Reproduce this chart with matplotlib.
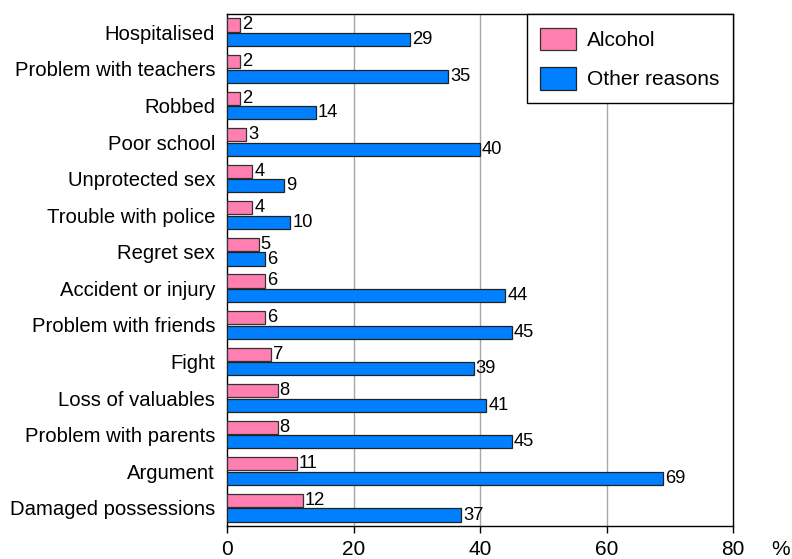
import numpy as np
import matplotlib
matplotlib.use("Agg")
import matplotlib.pyplot as plt

# data, top to bottom as in the chart
categories = ["Hospitalised", "Problem with teachers", "Robbed", "Poor school",
              "Unprotected sex", "Trouble with police", "Regret sex",
              "Accident or injury", "Problem with friends", "Fight",
              "Loss of valuables", "Problem with parents", "Argument",
              "Damaged possessions"]
alcohol = [2, 2, 2, 3, 4, 4, 5, 6, 6, 7, 8, 8, 11, 12]
other = [29, 35, 14, 40, 9, 10, 6, 44, 45, 39, 41, 45, 69, 37]
x_ticks = [0, 20, 40, 60, 80]

PINK = "#FF7FB0"
BLUE = "#0080FF"

plt.rcParams['font.family'] = ['Liberation Sans', 'DejaVu Sans']

fig = plt.figure(figsize=(7.92, 5.59), dpi=100)
ax = fig.add_axes([227/792, 1 - 526/559, 506/792, 512/559])

y = np.arange(len(categories))
h = 0.36
off = 0.2

b1 = ax.barh(y - off, alcohol, height=h, color=PINK, edgecolor="#333333",
             linewidth=0.9, label="Alcohol", zorder=3)
b2 = ax.barh(y + off, other, height=h, color=BLUE, edgecolor="#222222",
             linewidth=0.9, label="Other reasons", zorder=3)

for bars in (b1, b2):
    ax.bar_label(bars, padding=1.5, fontsize=13.2)

ax.set_xlim(0, 80)
ax.set_ylim(len(categories) - 0.5, -0.5)
ax.set_xticks(x_ticks)
ax.set_xticklabels([str(t) for t in x_ticks], fontsize=15)
ax.set_yticks(y)
ax.set_yticklabels(categories, fontsize=14.6)
ax.tick_params(axis='y', length=0, pad=8.5)
ax.tick_params(axis='x', length=5, width=1, direction='out', pad=5)

for x in x_ticks[1:-1]:
    ax.axvline(x, color="#A8A8A8", linewidth=1, zorder=1)

for sp in ax.spines.values():
    sp.set_linewidth(1)
    sp.set_color("black")

ax.annotate("%", xy=(1, 0), xycoords="axes fraction", xytext=(34.5, -10),
            textcoords="offset points", fontsize=15, ha="center", va="top")

leg = ax.legend(loc="upper right", bbox_to_anchor=(1, 1), borderaxespad=0,
                fontsize=15, fancybox=False, framealpha=1, edgecolor="black",
                handlelength=1.7, handleheight=1.3, handletextpad=0.55,
                borderpad=0.65, labelspacing=0.8)
leg.get_frame().set_linewidth(1)

fig.savefig("out.png", dpi=100)
